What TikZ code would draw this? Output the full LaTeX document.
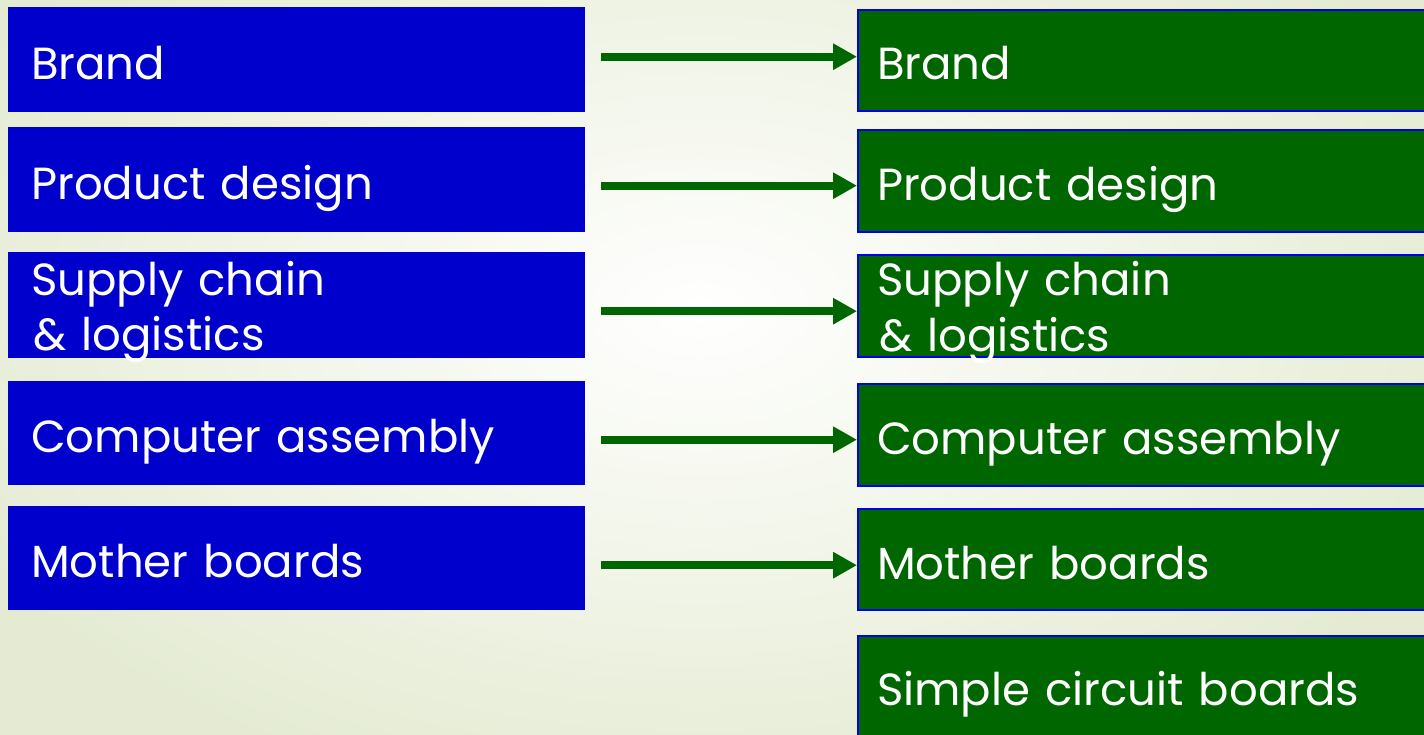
\documentclass[tikz,border=0pt]{standalone}
\usepackage{fontspec}
\setmainfont{Poppins}
\usetikzlibrary{arrows.meta,calc}
\definecolor{lblue}{HTML}{0000CC}
\definecolor{rgreen}{HTML}{006600}
\definecolor{rborder}{HTML}{0000EE}
\definecolor{bgc}{HTML}{E4EBD2}
\tikzset{
  lbox/.style={rectangle, fill=lblue, text=white, anchor=north west,
    minimum width=577pt, text width=531pt, inner xsep=23pt, inner ysep=0pt,
    align=left, font=\fontsize{45}{55}\selectfont, text height=40pt, text depth=1pt},
  rbox/.style={rectangle, fill=rgreen, draw=rborder, line width=2pt, text=white, anchor=north west,
    minimum width=620pt, text width=582pt, inner xsep=19pt, inner ysep=0pt,
    align=left, font=\fontsize{45}{55}\selectfont, text height=40pt, text depth=1pt},
  twoline/.style={text height=36pt, text depth=56pt},
  arr/.style={draw=rgreen, line width=8pt, -{Triangle[length=24pt,width=25pt]}}
}
\begin{document}
\begin{tikzpicture}[x=1pt,y=-1pt]
\useasboundingbox (0,0) rectangle (1424,735);
\clip (0,0) rectangle (1424,735);
\shade[inner color=white, outer color=bgc] (-140,-200) rectangle (1540,820);
% left column
\node[lbox, minimum height=105pt] (l1) at (8,7) {Brand};
\node[lbox, minimum height=105pt] (l2) at (8,127) {Product design};
\node[lbox, twoline, minimum height=106pt] (l3) at (8,252) {Supply chain\\\hspace*{2pt}\& logistics};
\node[lbox, minimum height=104pt] (l4) at (8,381) {Computer assembly};
\node[lbox, minimum height=104pt] (l5) at (8,506) {Mother boards};
% right column
\node[rbox, minimum height=101pt] (r1) at (857,9) {Brand};
\node[rbox, minimum height=102pt] (r2) at (857,129) {Product design};
\node[rbox, twoline, minimum height=102pt] (r3) at (857,254) {Supply chain\\\hspace*{2pt}\& logistics};
\node[rbox, minimum height=102pt] (r4) at (857,383) {Computer assembly};
\node[rbox, minimum height=101pt] (r5) at (857,508) {Mother boards};
\node[rbox, minimum height=110pt, text height=30pt] (r6) at (857,635) {Simple circuit boards};
% arrows
\coordinate (a1) at ($(l1.east)+(16,-3)$);
\coordinate (a2) at ($(l2.east)+(16,6)$);
\coordinate (a3) at ($(l3.east)+(16,6)$);
\coordinate (a4) at ($(l4.east)+(16,6.5)$);
\coordinate (a5) at ($(l5.east)+(16,7)$);
\draw[arr] (a1) -- (a1 -| r1.west);
\draw[arr] (a2) -- (a2 -| r2.west);
\draw[arr] (a3) -- (a3 -| r3.west);
\draw[arr] (a4) -- (a4 -| r4.west);
\draw[arr] (a5) -- (a5 -| r5.west);
\end{tikzpicture}
\end{document}
